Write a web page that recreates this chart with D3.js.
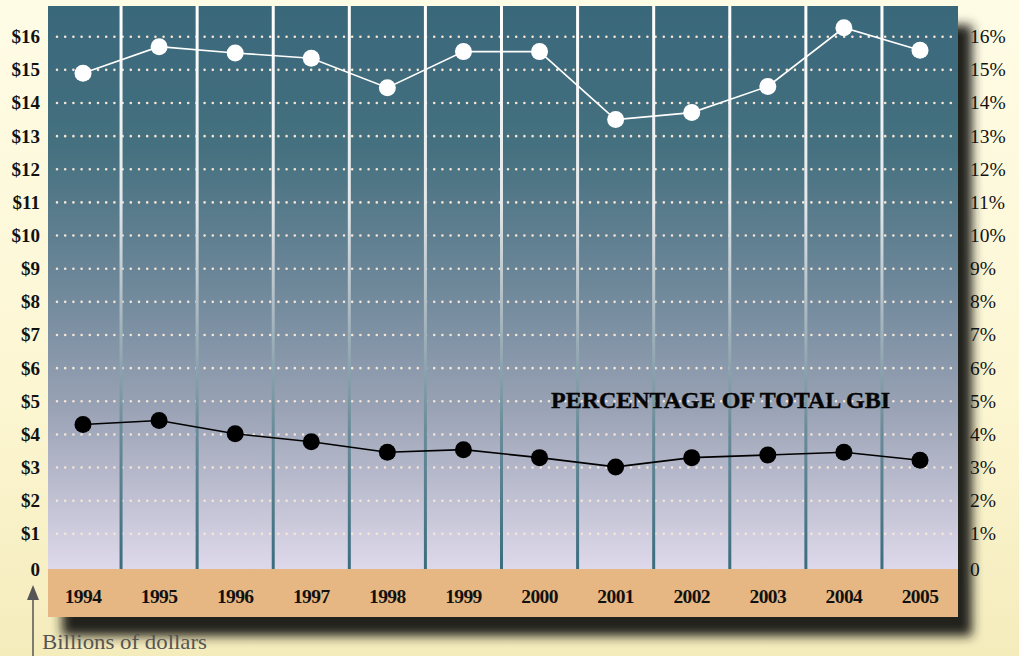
<!DOCTYPE html>
<html>
<head>
  <meta charset="UTF-8">
  <style>
    body {
        margin: 0;
        background: #fffbe4;
    }
    svg {
        display: block;
    }
    .ylab {
        font-family: "Liberation Serif", serif;
        font-weight: bold;
        font-size: 19px;
        fill: #111;
    }
    .rlab {
        font-family: "Liberation Serif", serif;
        font-size: 19.5px;
        fill: #111;
    }
    .xlab {
        font-family: "Liberation Serif", serif;
        font-weight: bold;
        font-size: 19.5px;
        letter-spacing: -0.6px;
        fill: #111;
    }
  </style>
</head>
<body>
<svg width="1019" height="656"></svg>

<script src="https://d3js.org/d3.v7.min.js"></script>
<script>

// chart data
const years = ["1994","1995","1996","1997","1998","1999","2000","2001","2002","2003","2004","2005"];
const billions = [14.90, 15.70, 15.51, 15.35, 14.46, 15.55, 15.55, 13.50, 13.71, 14.50, 16.27, 15.59];
const pctGBI = [4.30, 4.42, 4.02, 3.78, 3.46, 3.54, 3.30, 3.02, 3.30, 3.38, 3.46, 3.22];
const leftTicks = ["0","$1","$2","$3","$4","$5","$6","$7","$8","$9","$10","$11","$12","$13","$14","$15","$16"];
const rightTicks = ["0","1%","2%","3%","4%","5%","6%","7%","8%","9%","10%","11%","12%","13%","14%","15%","16%"];

const W = 1019, H = 656;
const panel = {left: 48, right: 958, top: 6, bottom: 569, bandBottom: 617};

const svg = d3.select("svg");
const defs = svg.append("defs");

// page background, cream getting a bit more yellow to the bottom
const pageGrad = defs.append("linearGradient").attr("id", "pageGrad")
    .attr("x1", 0).attr("y1", 0).attr("x2", 0).attr("y2", 1);
pageGrad.append("stop").attr("offset", "0%").attr("stop-color", "#fffce6");
pageGrad.append("stop").attr("offset", "60%").attr("stop-color", "#fcf6d2");
pageGrad.append("stop").attr("offset", "100%").attr("stop-color", "#f5ecbc");

// plot background: teal on top to pale lavender at the bottom
const bgGrad = defs.append("linearGradient").attr("id", "bgGrad")
    .attr("x1", 0).attr("y1", 0).attr("x2", 0).attr("y2", 1);
[["0%", "#39687a"], ["25%", "#45707f"], ["50%", "#6e889a"], ["72%", "#9ba3b6"], ["100%", "#ded9ea"]]
  .forEach(s => bgGrad.append("stop").attr("offset", s[0]).attr("stop-color", s[1]));

// vertical separators: white on top, teal at the bottom
const vGrad = defs.append("linearGradient").attr("id", "vGrad")
    .attr("gradientUnits", "userSpaceOnUse")
    .attr("x1", 0).attr("y1", panel.top).attr("x2", 0).attr("y2", panel.bottom);
[["0%", "#ffffff"], ["35%", "#e4e8ea"], ["55%", "#a9b8c0"], ["75%", "#6a8c9a"], ["100%", "#3b6d7e"]]
  .forEach(s => vGrad.append("stop").attr("offset", s[0]).attr("stop-color", s[1]));

const shadow = defs.append("filter").attr("id", "shadow")
    .attr("x", "-5%").attr("y", "-5%").attr("width", "115%").attr("height", "125%");
shadow.append("feDropShadow")
    .attr("dx", 14).attr("dy", 19).attr("stdDeviation", 5.5)
    .attr("flood-color", "#24231a").attr("flood-opacity", 1);

svg.append("rect").attr("width", W).attr("height", H).attr("fill", "url(#pageGrad)");

// scales
const x = d3.scalePoint().domain(years).range([83, 920]);
const y = d3.scaleLinear().domain([0, 16]).range([567, 36.7]);

// panel with shadow
const panelG = svg.append("g").attr("filter", "url(#shadow)");
panelG.append("rect")
    .attr("x", panel.left).attr("y", panel.top)
    .attr("width", panel.right - panel.left).attr("height", panel.bottom - panel.top)
    .attr("fill", "url(#bgGrad)");
panelG.append("rect")
    .attr("x", panel.left).attr("y", panel.bottom)
    .attr("width", panel.right - panel.left).attr("height", panel.bandBottom - panel.bottom)
    .attr("fill", "#e6b782");

// dotted gridlines
svg.append("g")
  .selectAll("line")
  .data(d3.range(1, 17))
  .join("line")
    .attr("x1", 57).attr("x2", 956)
    .attr("y1", d => y(d)).attr("y2", d => y(d))
    .attr("stroke", "#f5e6d6")
    .attr("stroke-width", 2.6)
    .attr("stroke-linecap", "round")
    .attr("stroke-dasharray", "0 8.2");

// separators between years
const step = x.step();
svg.append("g")
  .selectAll("rect")
  .data(years.slice(1))
  .join("rect")
    .attr("x", d => x(d) - step / 2 - 1.5)
    .attr("y", panel.top)
    .attr("width", 3)
    .attr("height", panel.bottom - panel.top)
    .attr("fill", "url(#vGrad)");

// lines + points
function series(vals, color) {
  const g = svg.append("g");
  g.append("path")
    .datum(vals)
    .attr("d", d3.line().x((d, i) => x(years[i])).y(d => y(d)))
    .attr("fill", "none")
    .attr("stroke", color)
    .attr("stroke-width", 1.6);
  g.selectAll("circle")
    .data(vals)
    .join("circle")
      .attr("cx", (d, i) => x(years[i]))
      .attr("cy", d => y(d))
      .attr("r", 8.5)
      .attr("fill", color);
}
series(billions, "#ffffff");
series(pctGBI, "#000000");

svg.append("text")
    .attr("x", 551).attr("y", 408)
    .attr("textLength", 339)
    .attr("lengthAdjust", "spacingAndGlyphs")
    .style("font-family", "'Liberation Serif', serif")
    .style("font-weight", "bold")
    .style("font-size", "24px")
    .attr("fill", "#050505")
    .attr("stroke", "#050505")
    .attr("stroke-width", 0.4)
    .text("PERCENTAGE OF TOTAL GBI");

// axes labels
svg.append("g")
  .selectAll("text")
  .data(leftTicks)
  .join("text")
    .attr("class", "ylab")
    .attr("x", 40)
    .attr("y", (d, i) => (i === 0 ? 569 : y(i)) + 6.5)
    .attr("text-anchor", "end")
    .text(d => d);

svg.append("g")
  .selectAll("text")
  .data(rightTicks)
  .join("text")
    .attr("class", "rlab")
    .attr("x", 970)
    .attr("y", (d, i) => (i === 0 ? 569 : y(i)) + 6.5)
    .text(d => d);

svg.append("g")
  .selectAll("text")
  .data(years)
  .join("text")
    .attr("class", "xlab")
    .attr("x", d => x(d))
    .attr("y", 603)
    .attr("text-anchor", "middle")
    .text(d => d);

// unit note with arrow
svg.append("line")
    .attr("x1", 33).attr("x2", 33).attr("y1", 598).attr("y2", 656)
    .attr("stroke", "#555").attr("stroke-width", 1.5);
svg.append("path")
    .attr("d", "M33,585 L39,600 L27,600 Z")
    .attr("fill", "#555");
svg.append("text")
    .attr("x", 42).attr("y", 649)
    .attr("textLength", 165)
    .attr("lengthAdjust", "spacingAndGlyphs")
    .style("font-family", "'Liberation Serif', serif")
    .style("font-size", "21px")
    .attr("fill", "#555")
    .text("Billions of dollars");

</script>
</body>
</html>
